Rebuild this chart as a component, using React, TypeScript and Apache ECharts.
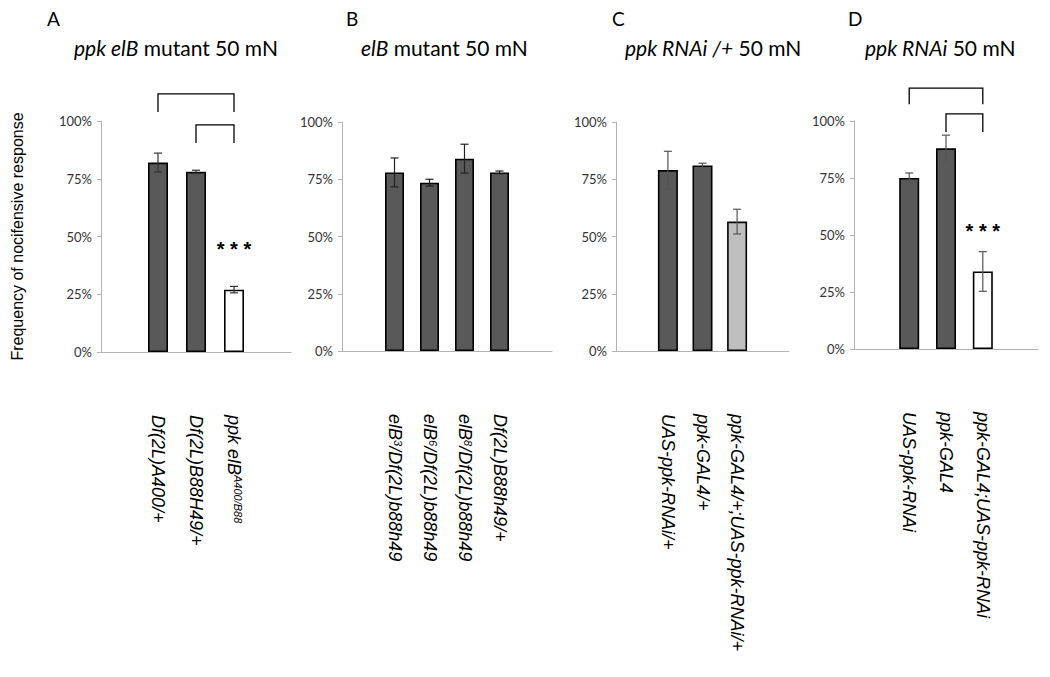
import React, { useEffect, useRef } from "react";
import * as echarts from "echarts";

// ---------- data ----------
const panelLetters = ["A", "B", "C", "D"];
const panelTitles = [
  "{i|ppk elB} mutant 50 mN",
  "{i|elB} mutant 50 mN",
  "{i|ppk RNAi /+} 50 mN",
  "{i|ppk RNAi} 50 mN",
];
const yTickValues = [0, 25, 50, 75, 100];
const yAxisTitle = "Frequency of nocifensive response";

const aCategories = ["Df(2L)A400/+", "Df(2L)B88H49/+", "ppk elB{sup|A400/B88}"];
const aValues = [82, 78, 27];
const aErrors = [4.1, 0.7, 1.4];

const bCategories = [
  "elB{sup|3}/Df(2L)b88h49",
  "elB{sup|6}/Df(2L)b88h49",
  "elB{sup|8}/Df(2L)b88h49",
  "Df(2L)B88h49/+",
];
const bValues = [78, 73.5, 84, 78];
const bErrors = [6.3, 1.5, 6.3, 0.6];

const cCategories = ["UAS-ppk-RNAi/+", "ppk-GAL4/+", "ppk-GAL4/+;UAS-ppk-RNAi/+"];
const cValues = [79, 81, 56.5];
const cErrors = [8.2, 1.0, 5.4];

const dCategories = ["UAS-ppk-RNAi", "ppk-GAL4", "ppk-GAL4;UAS-ppk-RNAi"];
const dValues = [75, 88, 34];
const dErrors = [2.2, 5.8, 8.7];

// significance brackets: [fromBar, toBar, topValue, dropValue]
const aBrackets = [
  [0, 2, 111.7, 103.9],
  [1, 2, 98.3, 90.5],
];
const dBrackets = [
  [0, 2, 114.4, 107.4],
  [1, 2, 103.1, 95.2],
];
const significanceMark = "* * *";
const aStarBar = 2;
const dStarBar = 2;

// ---------- layout / style ----------
const DARK = "#595959";
const LIGHT = "#bfbfbf";
const WHITE = "#ffffff";
const AXIS = "#b3b3b3";

const panels = [
  {
    cats: aCategories, vals: aValues, errs: aErrors, lead: 1, trail: 1,
    fills: [DARK, DARK, WHITE], errColor: "#333", brackets: aBrackets, star: aStarBar, starDist: 31,
    grid: { left: 101, top: 121, width: 190, height: 231 }, barWidth: 20,
    letter: { left: 47, top: 9 }, title: { left: 74, top: 37 },
  },
  {
    cats: bCategories, vals: bValues, errs: bErrors, lead: 1, trail: 1,
    fills: [DARK, DARK, DARK, DARK], errColor: "#222", brackets: [], star: -1, starDist: 0,
    grid: { left: 342, top: 122, width: 210, height: 229 }, barWidth: 19,
    letter: { left: 346, top: 9 }, title: { left: 361, top: 37 },
  },
  {
    cats: cCategories, vals: cValues, errs: cErrors, lead: 1, trail: 1,
    fills: [DARK, DARK, LIGHT], errColor: "#555", brackets: [], star: -1, starDist: 0,
    grid: { left: 616, top: 122, width: 173, height: 229 }, barWidth: 20,
    letter: { left: 612, top: 9 }, title: { left: 625, top: 37 },
  },
  {
    cats: dCategories, vals: dValues, errs: dErrors, lead: 1, trail: 1,
    fills: [DARK, DARK, WHITE], errColor: "#555", brackets: dBrackets, star: dStarBar, starDist: 30,
    grid: { left: 854, top: 121, width: 184, height: 228 }, barWidth: 20,
    letter: { left: 848, top: 9 }, title: { left: 865, top: 37 },
  },
];

const TITLE_FONT = "Lato";
const LABEL_FONT = "Liberation Sans";

function buildOption() {
  const title: any[] = [];
  const grid: any[] = [];
  const xAxis: any[] = [];
  const yAxis: any[] = [];
  const series: any[] = [];

  panels.forEach((p, i) => {
    title.push({
      text: panelLetters[i],
      left: p.letter.left,
      top: p.letter.top,
      padding: 0,
      textStyle: { fontFamily: TITLE_FONT, fontSize: 19, fontWeight: "normal", color: "#000" },
    });
    title.push({
      text: panelTitles[i],
      left: p.title.left,
      top: p.title.top,
      padding: 0,
      textStyle: {
        fontFamily: TITLE_FONT, fontSize: 21, fontWeight: "normal", color: "#000",
        rich: {
          i: { fontFamily: TITLE_FONT, fontSize: 21, fontStyle: "italic", color: "#000" },
        },
      },
    });
    grid.push({ ...p.grid });

    const cats = [
      ...Array(p.lead).fill(""),
      ...p.cats,
      ...Array(p.trail).fill(""),
    ];
    xAxis.push({
      type: "category",
      gridIndex: i,
      data: cats,
      axisLine: { show: true, lineStyle: { color: AXIS, width: 1 } },
      axisTick: { show: false },
      axisLabel: {
        interval: 0,
        rotate: -90,
        margin: 63,
        fontFamily: LABEL_FONT,
        fontStyle: "italic",
        fontSize: 18,
        color: "#000",
        rich: {
          sup: {
            fontFamily: LABEL_FONT,
            fontStyle: "italic",
            fontSize: 11,
            verticalAlign: "top",
            color: "#000",
          },
        },
      },
    });
    yAxis.push({
      type: "value",
      gridIndex: i,
      min: 0,
      max: 100,
      interval: 25,
      axisLine: { show: true, lineStyle: { color: AXIS, width: 1 } },
      axisTick: { show: true, length: 4, lineStyle: { color: AXIS } },
      splitLine: { show: false },
      axisLabel: {
        formatter: (v: number) => (yTickValues.includes(v) ? v + "%" : ""),
        margin: 9,
        fontFamily: TITLE_FONT,
        fontSize: 13,
        color: "#333",
      },
      name: i === 0 ? yAxisTitle : "",
      nameLocation: "middle",
      nameGap: 76,
      nameTextStyle: { fontFamily: LABEL_FONT, fontSize: 16, color: "#000" },
    });

    const barData = cats.map((_, k) => {
      const j = k - p.lead;
      if (j < 0 || j >= p.vals.length) return "-";
      const item: any = {
        value: p.vals[j],
        itemStyle: { color: p.fills[j], borderColor: "#000", borderWidth: 1.6 },
      };
      if (j === p.star) {
        item.label = {
          show: true,
          position: "top",
          distance: p.starDist,
          formatter: significanceMark,
          fontFamily: LABEL_FONT,
          fontSize: 20,
          fontWeight: "bold",
          color: "#000",
        };
      }
      return item;
    });
    series.push({
      type: "bar",
      xAxisIndex: i,
      yAxisIndex: i,
      data: barData,
      barWidth: p.barWidth,
    });

    const errData = p.vals.map((v, j) => [j + p.lead, v - p.errs[j], v + p.errs[j]]);
    const errColor = p.errColor;
    series.push({
      type: "custom",
      xAxisIndex: i,
      yAxisIndex: i,
      data: errData,
      encode: { x: 0, y: [1, 2] },
      clip: false,
      z: 5,
      renderItem: (params: any, api: any) => {
        const lo = api.coord([api.value(0), api.value(1)]);
        const hi = api.coord([api.value(0), api.value(2)]);
        const cap = 4;
        const style = { stroke: errColor, lineWidth: 1.2 };
        return {
          type: "group",
          children: [
            { type: "line", shape: { x1: lo[0], y1: lo[1], x2: hi[0], y2: hi[1] }, style },
            { type: "line", shape: { x1: lo[0] - cap, y1: lo[1], x2: lo[0] + cap, y2: lo[1] }, style },
            { type: "line", shape: { x1: hi[0] - cap, y1: hi[1], x2: hi[0] + cap, y2: hi[1] }, style },
          ],
        };
      },
    });

    if (p.brackets.length) {
      const bData = p.brackets.map((b) => [b[0] + p.lead, b[1] + p.lead, b[2], b[3]]);
      series.push({
        type: "custom",
        xAxisIndex: i,
        yAxisIndex: i,
        data: bData,
        encode: { x: [0, 1], y: [2, 3] },
        clip: false,
        z: 6,
        renderItem: (params: any, api: any) => {
          const p1 = api.coord([api.value(0), api.value(3)]);
          const p2 = api.coord([api.value(0), api.value(2)]);
          const p3 = api.coord([api.value(1), api.value(2)]);
          const p4 = api.coord([api.value(1), api.value(3)]);
          return {
            type: "polyline",
            shape: { points: [p1, p2, p3, p4] },
            style: { stroke: "#000", lineWidth: 1.3, fill: "none" },
          };
        },
      });
    }
  });

  return { animation: false, backgroundColor: "#fff", title, grid, xAxis, yAxis, series };
}

export default function App() {
  const ref = useRef<HTMLDivElement>(null);
  useEffect(() => {
    if (!ref.current) return;
    const chart = echarts.init(ref.current, undefined, { renderer: "svg" });
    chart.setOption(buildOption() as any);
    return () => chart.dispose();
  }, []);
  return (
    <div
      ref={ref}
      style={{ position: "fixed", left: 0, top: 0, width: 1050, height: 677, background: "#fff" }}
    />
  );
}
